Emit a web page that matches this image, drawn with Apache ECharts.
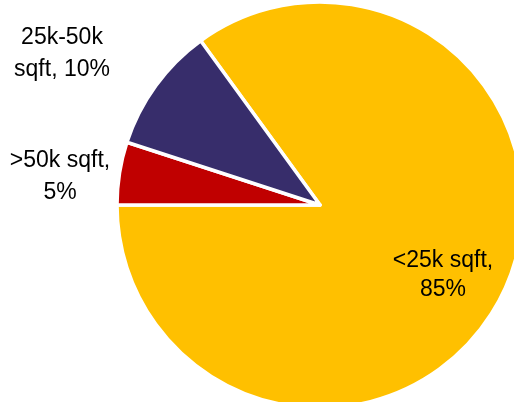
<!DOCTYPE html>
<html>
<head>
<meta charset="utf-8">
<script src="https://cdn.jsdelivr.net/npm/echarts@6/dist/echarts.min.js"></script>
<style>
html,body{margin:0;padding:0;background:#fff;}
#chart{width:514px;height:402px;}
</style>
</head>
<body>
<div id="chart"></div>
<script>
const categories = ['<25k sqft', '>50k sqft', '25k-50k sqft'];
const labelTexts = ['<25k sqft,\n85%', '>50k sqft,\n5%', '25k-50k\nsqft, 10%'];
const values = [85, 5, 10];
const colors = ['#FFC000', '#C00000', '#372D6B'];

const labelLayoutCfg = [
  { x: 443, y: 275, lineHeight: 29 },
  { x: 60, y: 177, lineHeight: 32 },
  { x: 62, y: 54, lineHeight: 32 }
];

const chart = echarts.init(document.getElementById('chart'), null, { renderer: 'canvas' });
chart.setOption({
  backgroundColor: '#ffffff',
  animation: false,
  series: [{
    type: 'pie',
    center: [320, 205],
    radius: 203,
    startAngle: 126,
    clockwise: true,
    avoidLabelOverlap: false,
    itemStyle: { borderColor: '#ffffff', borderWidth: 3.5 },
    label: {
      show: true,
      position: 'inside',
      fontFamily: 'Liberation Sans, Arial, sans-serif',
      fontSize: 23,
      color: '#000000',
      align: 'center',
      formatter: p => labelTexts[p.dataIndex]
    },
    labelLine: { show: false },
    labelLayout: p => ({
      x: labelLayoutCfg[p.dataIndex].x,
      y: labelLayoutCfg[p.dataIndex].y,
      align: 'center',
      verticalAlign: 'middle'
    }),
    data: categories.map((c, i) => ({
      name: c,
      value: values[i],
      itemStyle: { color: colors[i] },
      label: { lineHeight: labelLayoutCfg[i].lineHeight }
    }))
  }]
});
</script>
</body>
</html>
